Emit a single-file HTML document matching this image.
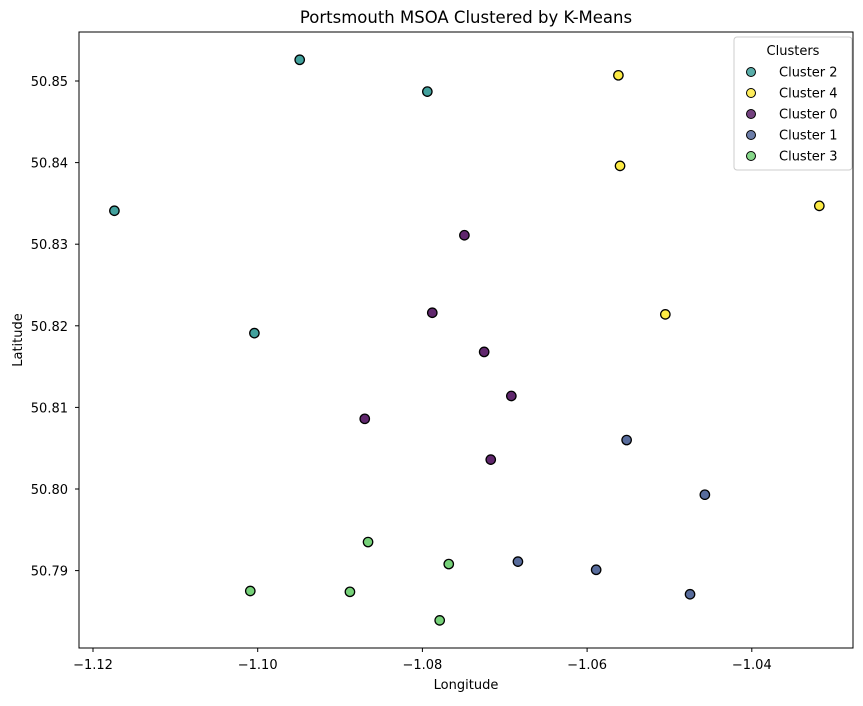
<!DOCTYPE html>
<html><head><meta charset="utf-8"><style>
body{margin:0;background:#fff;}
svg text{font-family:"DejaVu Sans","Liberation Sans",sans-serif;fill:#000;}
</style></head><body>
<svg width="863" height="701" viewBox="0 0 863 701">
<rect width="863" height="701" fill="#fff"/>
<text x="466" y="23" font-size="16.5" text-anchor="middle">Portsmouth MSOA Clustered by K-Means</text>
<g id="plot"></g>
<rect x="79" y="32" width="774" height="616" fill="none" stroke="#000" stroke-width="1"/>
<text x="466" y="689" font-size="13" text-anchor="middle">Longitude</text>
<text x="22" y="340" font-size="13" text-anchor="middle" transform="rotate(-90 22 340)">Latitude</text>
<g>
<rect x="734" y="37" width="118" height="133" rx="3" fill="#fff" fill-opacity="0.8" stroke="#ccc"/>
<text x="793" y="55" font-size="13" text-anchor="middle">Clusters</text>
<g id="legend-items"></g>
</g>
</svg>
<script>
const names=["Cluster 2","Cluster 4","Cluster 0","Cluster 1","Cluster 3"];
const colors=["#21918c","#fde725","#440154","#3b528b","#5ec962"];
const lon2=[-1.0949,-1.0794,-1.1174,-1.1004];
const lat2=[50.8526,50.8487,50.8341,50.8191];
const lon4=[-1.0562,-1.0560,-1.0318,-1.0505];
const lat4=[50.8507,50.8396,50.8347,50.8214];
const lon0=[-1.0749,-1.0788,-1.0725,-1.0692,-1.0870,-1.0717];
const lat0=[50.8311,50.8216,50.8168,50.8114,50.8086,50.8036];
const lon1=[-1.0552,-1.0457,-1.0684,-1.0589,-1.0475];
const lat1=[50.8060,50.7993,50.7911,50.7901,50.7871];
const lon3=[-1.0866,-1.0768,-1.1009,-1.0888,-1.0779];
const lat3=[50.7935,50.7908,50.7875,50.7874,50.7839];
const xTicks=[-1.12,-1.10,-1.08,-1.06,-1.04];
const yTicks=[50.79,50.80,50.81,50.82,50.83,50.84,50.85];
const series=[[lon2,lat2],[lon4,lat4],[lon0,lat0],[lon1,lat1],[lon3,lat3]];
const NS="http://www.w3.org/2000/svg";
const xs=v=>93+(v+1.12)*8235;
const ys=v=>81-(v-50.85)*8160;
const plot=document.getElementById('plot');
function mk(t,a,p){const e=document.createElementNS(NS,t);for(const k in a)e.setAttribute(k,a[k]);p.appendChild(e);return e;}
xTicks.forEach(t=>{
  const x=xs(t);
  const l=mk('line',{x1:x,x2:x,y1:648,y2:652,stroke:'#000'},plot);
  
  
  const tx=mk('text',{x:x,y:669,'font-size':13,'text-anchor':'middle'},plot);
  tx.textContent=t.toFixed(2).replace('-','\u2212');
  
  
});
yTicks.forEach(t=>{
  const y=ys(t);
  const l=mk('line',{x1:75,x2:79,y1:y,y2:y,stroke:'#000'},plot);
  
  
  const tx=mk('text',{x:68,y:y+5,'font-size':13,'text-anchor':'end'},plot);
  tx.textContent=t.toFixed(2);
  
  
});
series.forEach((s,i)=>{
  s[0].forEach((lo,j)=>{
    const c=mk('circle',{cx:xs(lo),cy:ys(s[1][j]),r:4.7,fill:colors[i],'fill-opacity':0.85,stroke:'#000','stroke-width':1.3},plot);
    
    
  });
});
const lg=document.getElementById('legend-items');
names.forEach((n,i)=>{
  const y=72+i*21;
  const c=mk('circle',{cx:751,cy:y,r:4.5,fill:colors[i],'fill-opacity':0.75,stroke:'#000','stroke-width':1},lg);
  
  
  const t=mk('text',{x:779,y:y+4.5,'font-size':13},lg);
  t.textContent=n;
  
  
});
</script>
</body></html>
